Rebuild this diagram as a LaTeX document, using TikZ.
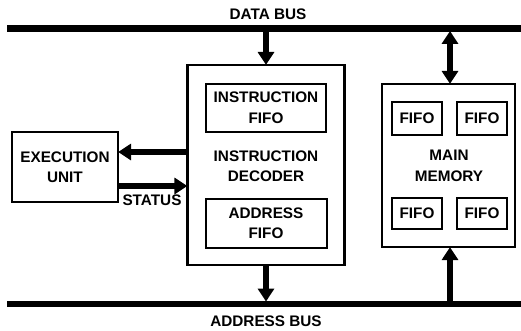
\documentclass[tikz,border=0pt]{standalone}
\usepackage{fontspec}
\setmainfont{Liberation Sans}
\usetikzlibrary{arrows.meta,positioning}
\begin{document}
\begin{tikzpicture}[x=1pt,y=-1pt,
  lbl/.style={font=\bfseries\fontsize{15.3}{20.5}\selectfont, align=center, inner sep=0pt},
  outerbox/.style={draw, line width=2.2pt, inner sep=0pt},
  innerbox/.style={draw, line width=2pt, inner sep=0pt, lbl},
  bus/.style={fill=black, inner sep=0pt, minimum height=6.5pt, minimum width=514pt},
  fat/.style={line width=6.5pt, -{Triangle[width=16pt,length=13pt]}, shorten >=-1pt},
  fatboth/.style={line width=6.5pt, {Triangle[width=16pt,length=13pt]}-{Triangle[width=16pt,length=13pt]}}
]
\useasboundingbox (0,0) rectangle (521,330);
% buses
\node[bus] (databus) at (264,28.5) {};
\node[bus] (addrbus) at (264,304) {};
\node[lbl] (datalbl) at (268,14) {DATA BUS};
\node[lbl] (addrlbl) at (266,321) {ADDRESS BUS};
% instruction decoder
\node[outerbox, minimum width=157pt, minimum height=200pt] (dec) at (266,165) {};
\node[lbl] (declbl) at (266,166) {INSTRUCTION\\DECODER};
\node[innerbox, minimum width=120pt, minimum height=48pt] (ififo) at (266,107.5) {INSTRUCTION\\FIFO};
\node[innerbox, minimum width=121pt, minimum height=49pt] (afifo) at (266,223) {ADDRESS\\FIFO};
% execution unit
\node[outerbox, lbl, minimum width=106pt, minimum height=70pt] (exec) at (65,167) {EXECUTION\\UNIT};
\node[lbl] (status) at (152,200) {STATUS};
% main memory
\node[outerbox, minimum width=133pt, minimum height=163pt] (mem) at (448.5,165.5) {};
\node[lbl] (memlbl) at (449,166) {MAIN\\MEMORY};
\node[innerbox, minimum width=50pt, minimum height=33pt] (f1) at (417,118.5) {FIFO};
\node[innerbox, minimum width=50pt, minimum height=33pt] (f2) at (482,118.5) {FIFO};
\node[innerbox, minimum width=50pt, minimum height=31pt] (f3) at (417,213) {FIFO};
\node[innerbox, minimum width=50pt, minimum height=31pt] (f4) at (482,213) {FIFO};
% connectors
\draw[fat] (databus.south -| dec.north) -- (dec.north);
\draw[fat] (dec.south) -- (addrbus.north -| dec.south);
\draw[fat] (dec.west |- 0,152) -- (exec.east |- 0,152);
\draw[fat] (exec.east |- 0,186) -- (dec.west |- 0,186);
\draw[fatboth, shorten <=-1pt, shorten >=-1pt] (databus.south -| 450,0) -- (mem.north -| 450,0);
\draw[fat] (addrbus.north -| 450,0) -- (mem.south -| 450,0);
\end{tikzpicture}
\end{document}
